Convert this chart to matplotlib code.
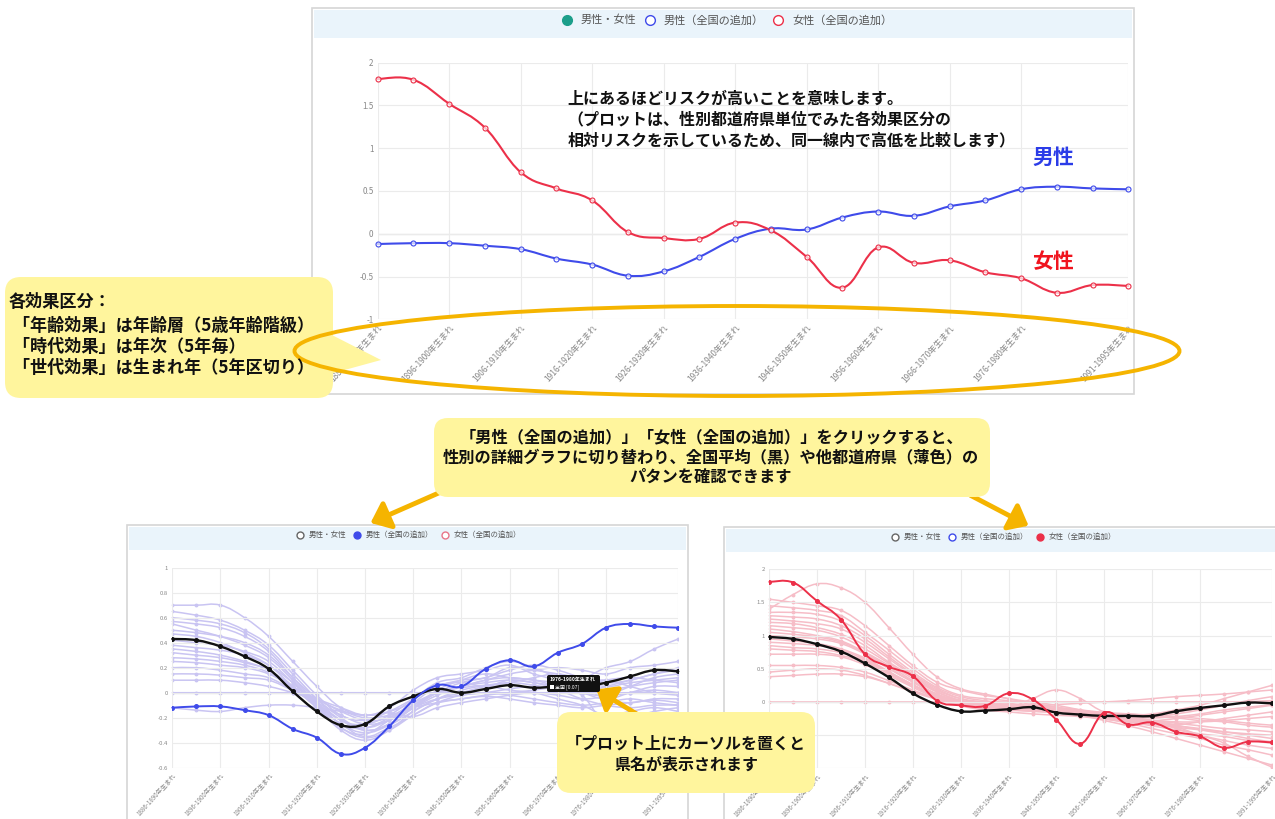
import matplotlib
matplotlib.use('Agg')
import matplotlib.pyplot as plt
from matplotlib.path import Path
from matplotlib.patches import PathPatch, Rectangle, FancyBboxPatch, Polygon, Ellipse, FancyArrowPatch

plt.rcParams['font.family'] = ['Noto Sans CJK JP', 'DejaVu Sans']

W, H = 1275, 819

# 5-year birth cohorts (x categories)
COHORTS = ['1886-1890年生まれ', '1891-1895年生まれ', '1896-1900年生まれ', '1901-1905年生まれ',
           '1906-1910年生まれ', '1911-1915年生まれ', '1916-1920年生まれ', '1921-1925年生まれ',
           '1926-1930年生まれ', '1931-1935年生まれ', '1936-1940年生まれ', '1941-1945年生まれ',
           '1946-1950年生まれ', '1951-1955年生まれ', '1956-1960年生まれ', '1961-1965年生まれ',
           '1966-1970年生まれ', '1971-1975年生まれ', '1976-1980年生まれ', '1981-1985年生まれ',
           '1986-1990年生まれ', '1991-1995年生まれ']
LABEL_IDX = [0, 2, 4, 6, 8, 10, 12, 14, 16, 18, 21]

male = [-0.12, -0.11, -0.11, -0.14, -0.18, -0.29, -0.36, -0.49, -0.44, -0.27, -0.06,
        0.06, 0.05, 0.19, 0.26, 0.21, 0.32, 0.39, 0.52, 0.55, 0.53, 0.52]
female = [1.81, 1.80, 1.52, 1.24, 0.72, 0.53, 0.39, 0.02, -0.05, -0.06, 0.13,
          0.04, -0.27, -0.63, -0.16, -0.34, -0.31, -0.45, -0.52, -0.69, -0.60, -0.61]

male_national = [0.43, 0.42, 0.37, 0.29, 0.19, 0.01, -0.15, -0.26, -0.25, -0.11, -0.03,
                 0.03, 0.00, 0.03, 0.06, 0.04, 0.05, 0.05, 0.08, 0.13, 0.18, 0.17]
female_national = [0.98, 0.95, 0.87, 0.76, 0.58, 0.37, 0.13, -0.04, -0.14, -0.13, -0.11,
                   -0.08, -0.16, -0.19, -0.21, -0.21, -0.21, -0.14, -0.09, -0.05, -0.01, -0.02]

# other prefectures
male_prefs = [
    [0.70, 0.70, 0.70, 0.60, 0.45, 0.25, 0.05, -0.12, -0.18, -0.12, 0.02, 0.12, 0.15, 0.18, 0.22, 0.15, 0.10, 0.05, 0.10, 0.12, 0.10, 0.08],
    [0.65, 0.62, 0.58, 0.50, 0.38, 0.18, -0.02, -0.18, -0.22, -0.15, -0.05, 0.05, 0.10, 0.12, 0.20, 0.18, 0.15, 0.12, 0.20, 0.25, 0.35, 0.43],
    [0.60, 0.58, 0.55, 0.48, 0.35, 0.15, -0.05, -0.22, -0.25, -0.18, -0.05, 0.08, 0.12, 0.20, 0.25, 0.20, 0.12, 0.05, -0.05, -0.08, -0.05, -0.05],
    [0.57, 0.55, 0.52, 0.45, 0.33, 0.12, -0.08, -0.25, -0.28, -0.20, -0.08, 0.05, 0.08, 0.05, 0.10, 0.08, 0.05, 0.00, -0.02, 0.05, 0.12, 0.15],
    [0.55, 0.50, 0.45, 0.38, 0.28, 0.10, -0.10, -0.28, -0.33, -0.22, -0.10, 0.00, 0.05, 0.10, 0.15, 0.18, 0.20, 0.18, 0.15, 0.20, 0.22, 0.25],
    [0.50, 0.48, 0.45, 0.40, 0.30, 0.12, -0.05, -0.20, -0.30, -0.25, -0.12, 0.02, 0.10, 0.15, 0.12, 0.10, 0.05, 0.00, -0.05, 0.00, 0.05, 0.05],
    [0.47, 0.45, 0.40, 0.32, 0.22, 0.05, -0.12, -0.30, -0.38, -0.30, -0.15, -0.05, 0.00, 0.05, 0.08, 0.12, 0.15, 0.10, 0.05, 0.08, 0.10, 0.12],
    [0.42, 0.40, 0.38, 0.33, 0.25, 0.08, -0.10, -0.25, -0.35, -0.28, -0.18, -0.08, -0.02, 0.00, 0.03, 0.05, 0.02, -0.05, -0.10, -0.12, -0.10, -0.10],
    [0.38, 0.36, 0.34, 0.30, 0.22, 0.08, -0.08, -0.22, -0.30, -0.25, -0.12, 0.00, 0.08, 0.12, 0.18, 0.22, 0.18, 0.12, 0.08, 0.10, 0.15, 0.18],
    [0.35, 0.33, 0.30, 0.25, 0.18, 0.05, -0.10, -0.25, -0.32, -0.26, -0.15, -0.05, 0.02, 0.05, 0.02, 0.00, -0.05, -0.10, -0.18, -0.15, -0.12, -0.15],
    [0.32, 0.30, 0.28, 0.24, 0.18, 0.04, -0.12, -0.28, -0.36, -0.30, -0.18, -0.08, -0.05, -0.02, 0.00, 0.02, 0.05, 0.08, 0.10, 0.05, 0.00, -0.02],
    [0.28, 0.27, 0.25, 0.22, 0.16, 0.03, -0.10, -0.22, -0.28, -0.22, -0.12, -0.02, 0.05, 0.08, 0.10, 0.08, 0.03, -0.02, -0.25, -0.20, -0.15, -0.12],
    [0.25, 0.24, 0.22, 0.20, 0.15, 0.05, -0.05, -0.15, -0.22, -0.20, -0.10, 0.00, 0.05, 0.10, 0.12, 0.10, 0.08, 0.05, 0.02, 0.05, 0.08, 0.10],
    [0.20, 0.20, 0.18, 0.15, 0.12, 0.02, -0.08, -0.18, -0.25, -0.22, -0.12, -0.05, -0.02, 0.00, -0.02, -0.05, -0.08, -0.10, -0.08, -0.05, -0.08, -0.10],
    [0.15, 0.15, 0.14, 0.12, 0.10, 0.02, -0.05, -0.12, -0.18, -0.15, -0.08, 0.00, 0.04, 0.06, 0.08, 0.06, 0.03, 0.00, 0.05, 0.10, 0.15, 0.20],
    [0.10, 0.10, 0.10, 0.08, 0.05, 0.00, -0.06, -0.14, -0.20, -0.18, -0.12, -0.08, -0.05, -0.03, -0.05, -0.08, -0.10, -0.12, -0.10, -0.08, -0.06, -0.08],
    [-0.12, -0.14, -0.15, -0.12, -0.10, -0.10, -0.12, -0.15, -0.18, -0.16, -0.19, -0.12, -0.08, -0.05, -0.02, 0.00, -0.02, -0.05, -0.03, 0.00, 0.02, 0.00],
    [0.00, 0.00, 0.00, 0.00, 0.00, 0.00, 0.00, 0.00, 0.00, 0.00, 0.00, 0.00, 0.00, 0.00, 0.00, 0.00, 0.00, 0.00, 0.00, 0.00, 0.00, 0.00],
]
female_prefs = [
    [1.55, 1.50, 1.45, 1.38, 1.15, 0.85, 0.55, 0.30, 0.18, 0.10, 0.05, -0.05, -0.12, -0.18, -0.22, -0.28, -0.32, -0.38, -0.50, -0.62, -0.82, -0.98],
    [1.40, 1.62, 1.78, 1.72, 1.50, 1.12, 0.72, 0.38, 0.20, 0.12, 0.05, 0.00, -0.05, -0.12, -0.18, -0.22, -0.28, -0.35, -0.42, -0.48, -0.55, -0.60],
    [1.45, 1.42, 1.38, 1.30, 1.05, 0.78, 0.50, 0.25, 0.10, 0.05, 0.02, -0.02, -0.08, -0.15, -0.20, -0.25, -0.28, -0.25, -0.20, -0.15, -0.10, -0.05],
    [1.35, 1.35, 1.32, 1.22, 1.00, 0.72, 0.45, 0.22, 0.08, 0.02, -0.02, -0.06, -0.10, -0.14, -0.18, -0.20, -0.18, -0.12, -0.05, 0.05, 0.15, 0.25],
    [1.30, 1.28, 1.25, 1.15, 0.95, 0.68, 0.42, 0.20, 0.05, -0.02, -0.05, -0.08, -0.12, -0.18, -0.25, -0.32, -0.40, -0.48, -0.55, -0.65, -0.72, -0.80],
    [1.25, 1.22, 1.18, 1.10, 0.90, 0.65, 0.40, 0.18, 0.05, 0.00, -0.04, -0.08, -0.12, -0.15, -0.18, -0.20, -0.22, -0.18, -0.12, -0.05, 0.02, 0.08],
    [1.20, 1.18, 1.12, 1.02, 0.85, 0.60, 0.38, 0.16, 0.02, -0.05, -0.08, -0.12, -0.16, -0.20, -0.24, -0.28, -0.32, -0.36, -0.40, -0.45, -0.50, -0.55],
    [1.15, 1.12, 1.08, 0.98, 0.80, 0.58, 0.35, 0.15, 0.02, -0.04, -0.06, -0.05, -0.08, -0.12, -0.16, -0.20, -0.22, -0.24, -0.28, -0.30, -0.35, -0.38],
    [1.10, 1.06, 1.00, 0.92, 0.75, 0.55, 0.32, 0.12, 0.00, -0.06, -0.10, -0.12, -0.14, -0.18, -0.22, -0.26, -0.30, -0.34, -0.30, -0.25, -0.20, -0.15],
    [1.05, 1.02, 0.98, 0.90, 0.74, 0.52, 0.30, 0.10, -0.02, -0.08, -0.10, -0.10, -0.12, -0.16, -0.20, -0.25, -0.30, -0.40, -0.50, -0.58, -0.65, -0.70],
    [1.00, 0.98, 0.95, 0.88, 0.72, 0.50, 0.30, 0.12, 0.02, -0.02, -0.04, -0.06, -0.10, -0.14, -0.18, -0.22, -0.24, -0.22, -0.18, -0.12, -0.08, -0.04],
    [0.95, 0.92, 0.88, 0.80, 0.66, 0.46, 0.26, 0.08, -0.04, -0.10, -0.12, -0.14, -0.16, -0.20, -0.25, -0.30, -0.36, -0.42, -0.48, -0.52, -0.58, -0.62],
    [0.90, 0.88, 0.85, 0.78, 0.64, 0.45, 0.26, 0.10, 0.00, -0.05, -0.08, -0.10, -0.12, -0.14, -0.16, -0.18, -0.20, -0.22, -0.25, -0.28, -0.32, -0.35],
    [0.85, 0.82, 0.80, 0.74, 0.62, 0.44, 0.25, 0.08, -0.02, -0.06, -0.08, 0.05, 0.18, 0.05, -0.15, -0.18, -0.20, -0.15, -0.10, -0.05, 0.00, 0.02],
    [0.80, 0.78, 0.76, 0.70, 0.60, 0.42, 0.24, 0.08, -0.03, -0.08, -0.10, -0.12, -0.15, -0.20, -0.28, -0.36, -0.45, -0.55, -0.65, -0.75, -0.85, -0.95],
    [0.72, 0.72, 0.72, 0.68, 0.56, 0.40, 0.22, 0.06, -0.04, -0.08, -0.10, -0.10, -0.12, -0.16, -0.20, -0.24, -0.28, -0.32, -0.36, -0.40, -0.42, -0.45],
    [0.55, 0.55, 0.55, 0.52, 0.45, 0.32, 0.18, 0.05, -0.05, -0.10, -0.12, -0.14, -0.16, -0.18, -0.22, -0.26, -0.28, -0.30, -0.30, -0.28, -0.25, -0.22],
    [0.45, 0.48, 0.50, 0.48, 0.40, 0.28, 0.15, 0.04, -0.06, -0.12, -0.15, -0.18, -0.20, -0.22, -0.26, -0.30, -0.34, -0.38, -0.42, -0.45, -0.48, -0.50],
    [0.38, 0.40, 0.42, 0.42, 0.38, 0.28, 0.16, 0.06, -0.02, -0.06, -0.08, -0.06, -0.04, -0.02, 0.00, 0.02, 0.05, 0.08, 0.10, 0.12, 0.15, 0.18],
    [0.00, 0.00, 0.00, 0.00, 0.00, 0.00, 0.00, 0.00, 0.00, 0.00, 0.00, 0.00, 0.00, 0.00, 0.00, 0.00, 0.00, 0.00, 0.00, 0.00, 0.00, 0.00],
]

BLUE = '#3f4bea'
RED = '#ec3049'
TEAL = '#1b9e8a'
YELLOW = '#fff59d'
ORANGE = '#f5b400'


def rect(x0, y0, x1, y1):
    return [x0 / W, 1 - y1 / H, (x1 - x0) / W, (y1 - y0) / H]


def smooth(ax, ys, color, lw, zorder=2, t=0.4):
    # chart.js style cubic curve through the points
    pts = list(zip(range(len(ys)), ys))
    n = len(pts)
    verts = [pts[0]]
    codes = [Path.MOVETO]

    def ctrl(i):
        p0 = pts[max(i - 1, 0)]
        p2 = pts[min(i + 1, n - 1)]
        dx, dy = (p2[0] - p0[0]) * t / 2, (p2[1] - p0[1]) * t / 2
        return (pts[i][0] - dx, pts[i][1] - dy), (pts[i][0] + dx, pts[i][1] + dy)
    for i in range(n - 1):
        verts += [ctrl(i)[1], ctrl(i + 1)[0], pts[i + 1]]
        codes += [Path.CURVE4] * 3
    ax.add_patch(PathPatch(Path(verts, codes), fill=False, edgecolor=color,
                           lw=lw, zorder=zorder, clip_on=False, capstyle='round'))


def setup(ax, ylim, yticks, ylabels, fs_y, fs_x):
    ax.set_xlim(0, len(COHORTS) - 1)
    ax.set_ylim(*ylim)
    ax.patch.set_alpha(0)
    for s in ax.spines.values():
        s.set_visible(False)
    ax.set_yticks(yticks)
    ax.set_yticklabels(ylabels, fontsize=fs_y, color='#888888')
    ax.set_xticks(LABEL_IDX)
    ax.set_xticklabels([COHORTS[i] for i in LABEL_IDX], fontsize=fs_x, color='#888888',
                       rotation=48, ha='right', rotation_mode='anchor')
    ax.tick_params(length=0, pad=3)
    ax.grid(color='#ebebeb', lw=0.8, zorder=0)
    ax.axhline(0, color='#d0d0d0', lw=0.9, zorder=0.5)


fig = plt.figure(figsize=(W / 100, H / 100), dpi=100)

# background panels
bg = fig.add_axes([0, 0, 1, 1], zorder=-5)
bg.set_xlim(0, W)
bg.set_ylim(H, 0)
bg.axis('off')
for (x0, y0, x1, y1) in [(312, 8, 1134, 394), (127, 525, 688, 830), (724, 527, 1290, 830)]:
    bg.add_patch(Rectangle((x0, y0), x1 - x0, y1 - y0, facecolor='white', edgecolor='#d6d6d6', lw=1.2))
    bg.add_patch(Rectangle((x0 + 2, y0 + 2), x1 - x0 - 4, 28 if y0 < 100 else 23,
                           facecolor='#eaf4fb', edgecolor='none'))

# ---- top chart
ax = fig.add_axes(rect(377.7, 62.7, 1128.3, 319.3))
setup(ax, (-1, 2), [-1, -0.5, 0, 0.5, 1, 1.5, 2], ['-1', '-0.5', '0', '0.5', '1', '1.5', '2'], 5.8, 6)
for ys, c in [(male, BLUE), (female, RED)]:
    smooth(ax, ys, c, 1.5, zorder=3)
    ax.plot(range(len(ys)), ys, 'o', ms=3.6, mfc=(1, 1, 1, 0.7), mec=c, mew=0.8,
            ls='none', zorder=4, clip_on=False)
ax.text(0.253, 0.89, '上にあるほどリスクが高いことを意味します。\n（プロットは、性別都道府県単位でみた各効果区分の\n相対リスクを示しているため、同一線内で高低を比較します）',
        transform=ax.transAxes, fontsize=11.5, fontweight='bold', color='#111111',
        va='top', ha='left', linespacing=1.35)
ax.text(0.90, 0.63, '男性', transform=ax.transAxes, fontsize=15, fontweight='bold',
        color='#2b3ce8', ha='center', va='center')
ax.text(0.90, 0.225, '女性', transform=ax.transAxes, fontsize=15, fontweight='bold',
        color='#f0141e', ha='center', va='center')

# ---- bottom-left chart (male detail)
axm = fig.add_axes(rect(172.3, 567.7, 678.3, 767.7))
mt = [-0.6, -0.4, -0.2, 0, 0.2, 0.4, 0.6, 0.8, 1]
setup(axm, (-0.6, 1), mt, ['-0.6', '-0.4', '-0.2', '0', '0.2', '0.4', '0.6', '0.8', '1'], 4.3, 4.5)
for ys in male_prefs:
    smooth(axm, ys, '#c9c4f2', 1.1, zorder=1)
    axm.plot(range(len(ys)), ys, 'o', ms=1.8, color='#c9c4f2', ls='none', zorder=1)
smooth(axm, male_national, '#111111', 1.7, zorder=3)
axm.plot(range(22), male_national, 'o', ms=2.6, color='#111111', ls='none', zorder=3)
smooth(axm, male, BLUE, 1.4, zorder=4)
axm.plot(range(22), male, 'o', ms=2.6, color=BLUE, ls='none', zorder=4)

# ---- bottom-right chart (female detail); -0.5 and -1 labels sit under the callout
axf = fig.add_axes(rect(769.3, 569.3, 1271.8, 768.3))
setup(axf, (-1, 2), [-1, -0.5, 0, 0.5, 1, 1.5, 2], ['', '', '0', '0.5', '1', '1.5', '2'], 4.3, 4.5)
for ys in female_prefs:
    smooth(axf, ys, '#f6bdc7', 1.1, zorder=1)
    axf.plot(range(len(ys)), ys, 'o', ms=1.8, color='#f6bdc7', ls='none', zorder=1)
smooth(axf, female_national, '#111111', 1.7, zorder=3)
axf.plot(range(22), female_national, 'o', ms=2.6, color='#111111', ls='none', zorder=3)
smooth(axf, female, RED, 1.4, zorder=4)
axf.plot(range(22), female, 'o', ms=2.6, color=RED, ls='none', zorder=4)

# ---- overlay: legends, callouts, arrows
ov = fig.add_axes([0, 0, 1, 1], zorder=10)
ov.set_xlim(0, W)
ov.set_ylim(H, 0)
ov.axis('off')
ov.patch.set_alpha(0)

LEG = ['男性・女性', '男性（全国の追加）', '女性（全国の追加）']


def legend(xs, y, styles, fs, ms):
    for (cx, tx), lab, (fc, ec) in zip(xs, LEG, styles):
        ov.plot(cx, y, 'o', ms=ms, mfc=fc, mec=ec, mew=1.0)
        ov.text(tx, y, lab, fontsize=fs, color='#555555', va='center', ha='left')


legend([(567, 581), (650, 664), (778, 792)], 20,
       [(TEAL, TEAL), ('white', BLUE), ('white', RED)], 8.0, 7)
legend([(300, 309), (357, 366), (445, 454)], 535,
       [('white', '#666666'), (BLUE, BLUE), ('white', '#e8758a')], 5.4, 5)
legend([(895, 904), (952, 961), (1040, 1049)], 537,
       [('white', '#666666'), ('white', BLUE), (RED, RED)], 5.4, 5)

# tooltip in male detail chart
ov.add_patch(FancyBboxPatch((547, 675), 53, 17, boxstyle='round,pad=0,rounding_size=2',
                            facecolor='#111111', edgecolor='none', zorder=5))
ov.text(550, 679.5, '1976-1980年生まれ', fontsize=3.6, color='white', fontweight='bold',
        va='center', ha='left', zorder=6)
ov.add_patch(Rectangle((550, 685), 3.5, 3.5, facecolor='white', edgecolor='none', zorder=6))
ov.text(555, 687, '全国 [0.07]', fontsize=3.6, color='white', va='center', ha='left', zorder=6)

# arrows
for (p0, p1) in [((450, 488), (368, 524)), ((968, 494), (1031, 527)), ((640, 716), (594, 688))]:
    ov.add_patch(FancyArrowPatch(p0, p1, arrowstyle='-|>,head_length=0.55,head_width=0.45',
                                 mutation_scale=20, color=ORANGE, lw=3.5, zorder=1))

# callout boxes
ov.add_patch(FancyBboxPatch((5, 277), 328, 121, boxstyle='round,pad=0,rounding_size=16',
                            facecolor=YELLOW, edgecolor='none', zorder=2))
ov.add_patch(Polygon([(330, 334), (381, 360), (330, 374)], closed=True,
                     facecolor=YELLOW, edgecolor='none', zorder=2))
ov.add_patch(FancyBboxPatch((434, 418), 556, 79, boxstyle='round,pad=0,rounding_size=14',
                            facecolor=YELLOW, edgecolor='none', zorder=2))
ov.add_patch(FancyBboxPatch((557, 712), 258, 81, boxstyle='round,pad=0,rounding_size=14',
                            facecolor=YELLOW, edgecolor='none', zorder=2))

ov.add_patch(Ellipse((737, 351), 885, 90, fill=False, edgecolor=ORANGE, lw=2.8, zorder=3))

left_lines = ['各効果区分：', ' 「年齢効果」は年齢層（5歳年齢階級）',
              ' 「時代効果」は年次（5年毎）', ' 「世代効果」は生まれ年（5年区切り）']
for yy, line in zip([302, 326, 347, 368], left_lines):
    ov.text(9, yy, line, fontsize=12.3, fontweight='bold', color='#111111', va='center', zorder=4)
ov.text(711, 457, '「男性（全国の追加）」「女性（全国の追加）」をクリックすると、\n性別の詳細グラフに切り替わり、全国平均（黒）や他都道府県（薄色）の\nパタンを確認できます',
        fontsize=11.7, fontweight='bold', color='#111111', ha='center', va='center',
        linespacing=1.3, zorder=4)
ov.text(686, 754, '「プロット上にカーソルを置くと\n県名が表示されます', fontsize=11.5, fontweight='bold',
        color='#111111', ha='center', va='center', linespacing=1.35, zorder=4)

fig.savefig('out.png', dpi=100)
